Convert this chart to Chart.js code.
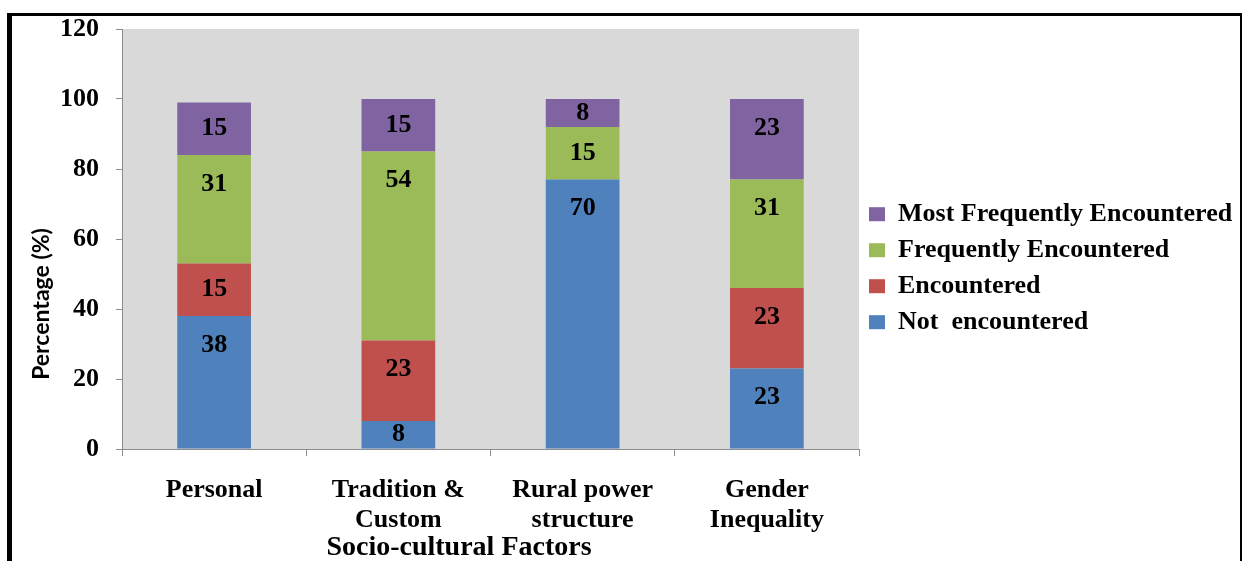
<!DOCTYPE html>
<html>
<head>
<meta charset="utf-8">
<script src="https://cdn.jsdelivr.net/npm/chart.js@4.4.1/dist/chart.umd.min.js"></script>
<style>
  body { margin: 0; background: #fff; }
  #frame {
    position: absolute; left: 7px; top: 13px; width: 1235px; height: 600px;
    box-sizing: border-box; border-top: 3px solid #000; border-left: 5px solid #000;
    border-right: 2px solid #000;
  }
  #wrap { position: absolute; left: 0; top: 0; width: 1242px; height: 561px; }
</style>
</head>
<body>
<div id="frame"></div>
<div id="wrap"><canvas id="grafico-factores"></canvas></div>
<script>
'use strict';

const factores = [['Personal'], ['Tradition &', 'Custom'], ['Rural power', 'structure'], ['Gender', 'Inequality']];

// bar heights as drawn
const notEncountered = [38, 8, 77, 23];
const encountered = [15, 23, 0, 23];
const frequently = [31, 54, 15, 31];
const mostFrequently = [15, 15, 8, 23];

// numbers printed on the bars
const notEncounteredText = ['38', '8', '70', '23'];
const encounteredText = ['15', '23', '', '23'];
const frequentlyText = ['31', '54', '15', '31'];
const mostFrequentlyText = ['15', '15', '8', '23'];

const yTicks = [0, 20, 40, 60, 80, 100, 120];

const serif = '"Liberation Serif", "Times New Roman", serif';

/**
 * Fondo gris del área de trazado y títulos de los ejes.
 */
const fondoYTitulos = {
    id: 'fondoYTitulos',
    beforeDraw(chart) {
        const { ctx, chartArea } = chart;
        ctx.save();
        ctx.fillStyle = '#d9d9d9';
        ctx.fillRect(chartArea.left, chartArea.top, chartArea.right - chartArea.left, chartArea.bottom - chartArea.top);
        ctx.restore();
    },
    afterDraw(chart) {
        const { ctx, chartArea } = chart;
        ctx.save();
        ctx.fillStyle = '#000';
        ctx.textAlign = 'center';
        ctx.textBaseline = 'middle';
        ctx.font = 'bold 28px ' + serif;
        ctx.fillText('Socio-cultural Factors', chartArea.left + 337, chartArea.bottom + 99);
        ctx.translate(chartArea.left - 80, (chartArea.top + chartArea.bottom) / 2 + 65);
        ctx.rotate(-Math.PI / 2);
        ctx.font = 'bold 23px Lato, "Open Sans", sans-serif';
        ctx.fillText('Percentage (%)', 0, 0);
        ctx.restore();
    }
};

/**
 * Etiquetas de valor "inside end" en cada segmento.
 */
const etiquetasValor = {
    id: 'etiquetasValor',
    afterDatasetsDraw(chart) {
        const { ctx } = chart;
        ctx.save();
        ctx.fillStyle = '#000';
        ctx.textAlign = 'center';
        ctx.textBaseline = 'middle';
        ctx.font = 'bold 26px ' + serif;
        chart.data.datasets.forEach((ds, i) => {
            chart.getDatasetMeta(i).data.forEach((bar, j) => {
                const texto = ds.textos[j];
                if (!texto || !ds.data[j]) return;
                const centro = (bar.y + bar.base) / 2;
                ctx.fillText(texto, bar.x, Math.min(bar.y + 29, centro));
            });
        });
        ctx.restore();
    }
};

const ctx = document.getElementById('grafico-factores').getContext('2d');

new Chart(ctx, {
    type: 'bar',
    data: {
        labels: factores,
        datasets: [
            { label: 'Not  encountered', data: notEncountered, textos: notEncounteredText, backgroundColor: '#4f81bd' },
            { label: 'Encountered', data: encountered, textos: encounteredText, backgroundColor: '#c0504d' },
            { label: 'Frequently Encountered', data: frequently, textos: frequentlyText, backgroundColor: '#9bbb59' },
            { label: 'Most Frequently Encountered', data: mostFrequently, textos: mostFrequentlyText, backgroundColor: '#8064a2' }
        ]
    },
    options: {
        responsive: true,
        maintainAspectRatio: false,
        animation: false,
        layout: { padding: { top: 29, left: 0, right: 0, bottom: 0 } },
        datasets: { bar: { categoryPercentage: 1, barPercentage: 0.4 } },
        scales: {
            x: {
                stacked: true,
                afterFit(scale) { scale.height = 112; },
                border: { display: true, color: '#8c8c8c', width: 1 },
                grid: { display: true, offset: true, drawOnChartArea: false, drawTicks: true, tickLength: 7, color: '#8c8c8c' },
                ticks: { color: '#000', padding: 19, maxRotation: 0, font: { family: serif, size: 26, weight: 'bold', lineHeight: 1.15 } }
            },
            y: {
                stacked: true,
                min: 0,
                max: 120,
                afterFit(scale) { scale.width = 122; },
                afterBuildTicks(scale) { scale.ticks = yTicks.map(v => ({ value: v })); },
                border: { display: true, color: '#8c8c8c', width: 1 },
                grid: { display: true, drawOnChartArea: false, drawTicks: true, tickLength: 6, color: '#8c8c8c' },
                ticks: { color: '#000', padding: 17, font: { family: serif, size: 26, weight: 'bold', lineHeight: 0.4 } }
            }
        },
        plugins: {
            tooltip: { enabled: false },
            legend: {
                position: 'right',
                align: 'start',
                reverse: true,
                maxWidth: 383,
                title: { display: true, text: ' ', font: { size: 1 }, padding: { top: 161, bottom: 0 } },
                labels: {
                    color: '#000',
                    boxWidth: 16,
                    boxHeight: 14,
                    padding: 10,
                    font: { family: serif, size: 26, weight: 'bold', lineHeight: 1.2 }
                }
            }
        }
    },
    plugins: [fondoYTitulos, etiquetasValor]
});
</script>
</body>
</html>
